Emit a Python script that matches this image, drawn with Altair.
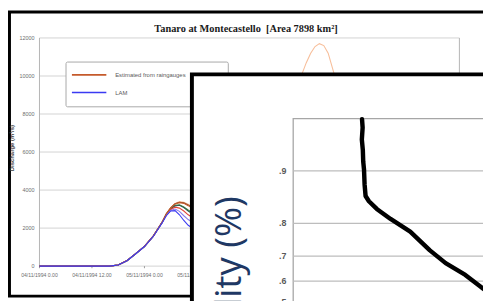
import altair as alt
import pandas as pd

# ---------------- hydrograph data (Tanaro at Montecastello) ----------------
hours = [0, 8, 16, 18, 20, 22, 24, 26, 28, 29, 30, 31, 32, 33, 34, 36, 40, 44, 48, 52, 56, 58,
         60, 61, 62, 63, 64, 65, 66, 67, 68, 70, 72, 76, 80, 84, 88, 92, 96]

q_raingauges = [0, 0, 0, 60, 290, 660, 1040, 1580, 2290, 2740, 3060, 3270, 3340, 3300, 3180,
                2900, 2400, 2200, 2600, 3600, 4800, 5300, 5600, 5700, 5800, 5850, 5850, 5800,
                5700, 5600, 5450, 5100, 4700, 3900, 3200, 2700, 2300, 2000, 1800]
q_peach = [0, 0, 0, 55, 280, 650, 1030, 1570, 2300, 2760, 3080, 3290, 3390, 3360, 3250,
           3000, 2700, 3100, 4100, 5900, 8100, 9200, 10100, 10700, 11200, 11550, 11700, 11600,
           11200, 10400, 9600, 8200, 7000, 5200, 4000, 3200, 2700, 2300, 2000]
q_brown = [0, 0, 0, 60, 285, 655, 1040, 1575, 2300, 2750, 3070, 3280, 3360, 3330, 3220,
           2950, 2500, 2300, 2700, 3800, 5200, 5900, 6300, 6450, 6550, 6600, 6600, 6550,
           6450, 6300, 6150, 5700, 5200, 4300, 3500, 2900, 2500, 2200, 1950]
q_green = [0, 0, 0, 60, 285, 650, 1035, 1570, 2280, 2720, 3020, 3200, 3230, 3110, 2950,
           2650, 2250, 2050, 2300, 3100, 4200, 4700, 5000, 5100, 5150, 5200, 5200, 5150,
           5100, 5000, 4900, 4600, 4200, 3500, 2900, 2450, 2100, 1850, 1650]
q_teal = [0, 0, 0, 58, 280, 645, 1030, 1565, 2280, 2700, 3000, 3170, 3200, 3080, 2900,
          2600, 2200, 2000, 2200, 2900, 3900, 4400, 4700, 4800, 4850, 4900, 4900, 4850,
          4800, 4700, 4600, 4300, 3950, 3300, 2750, 2350, 2000, 1750, 1550]
q_red = [0, 0, 0, 62, 290, 660, 1040, 1580, 2280, 2700, 2980, 3100, 3050, 2900, 2700,
         2400, 2000, 1850, 2100, 2800, 3700, 4200, 4500, 4600, 4650, 4700, 4700, 4650,
         4600, 4500, 4400, 4100, 3750, 3150, 2600, 2200, 1900, 1650, 1500]
q_violet = [0, 0, 0, 60, 285, 650, 1030, 1560, 2270, 2680, 2930, 3000, 2880, 2650, 2450,
            2150, 1800, 1650, 1850, 2500, 3300, 3700, 3950, 4050, 4100, 4150, 4150, 4100,
            4050, 3950, 3850, 3600, 3300, 2800, 2350, 2000, 1750, 1550, 1400]
q_lam = [0, 0, 0, 60, 285, 650, 1030, 1560, 2260, 2650, 2900, 2920, 2700, 2400, 2150,
         1850, 1500, 1400, 1600, 2200, 3000, 3400, 3650, 3750, 3800, 3850, 3850, 3800,
         3750, 3650, 3550, 3300, 3000, 2550, 2150, 1850, 1600, 1400, 1250]

series_names = ["Member 1", "Member 2", "Member 3", "Member 4", "Member 5", "Member 6",
                "Estimated from raingauges", "LAM"]
series_colors = ["#F7BE9A", "#8B4A2B", "#4F8A3A", "#2E5D50", "#E2473B", "#8D7BEA",
                 "#C55A2B", "#3A3AF2"]
series_values = [q_peach, q_brown, q_green, q_teal, q_red, q_violet, q_raingauges, q_lam]

legend_names = ["Estimated from raingauges", "LAM"]

y_ticks = [0, 2000, 4000, 6000, 8000, 10000, 12000]
x_ticks = [0, 12, 24, 36, 48, 60, 72, 84]
x_tick_labels = ["04/11/1994 0.00", "04/11/1994 12.00", "05/11/1994 0.00", "05/11/1994 12.00",
                 "06/11/1994 0.00", "06/11/1994 12.00", "07/11/1994 0.00", "07/11/1994 12.00"]

# ---------------- probability plot data ----------------
prob_x = [35.0, 35.3, 34.9, 35.4, 35.6, 36.0, 36.3, 36.8, 38.5, 42.5, 49.5, 59.5, 69.5,
          77.5, 87.5, 96.0, 101.0]
prob_p = [0.951, 0.945, 0.935, 0.925, 0.912, 0.902, 0.88, 0.86, 0.85, 0.834, 0.811, 0.778,
          0.72, 0.674, 0.627, 0.57, 0.54]
p_ticks = [0.5, 0.6, 0.7, 0.8, 0.9]
p_tick_labels = [".5", ".6", ".7", ".8", ".9"]

# ---------------- tables ----------------
rows = []
for name, vals in zip(series_names, series_values):
    for h, q in zip(hours, vals):
        rows.append({"series": name, "hour": h, "Q": q})
hydro = pd.DataFrame(rows)
ygrid = pd.DataFrame({"v": y_ticks, "t0": 0, "t1": 96, "lab": [str(v) for v in y_ticks]})
xt = pd.DataFrame({"hour": x_ticks, "lab": x_tick_labels, "q0": 0, "q1": -110})
prob = pd.DataFrame({"x": prob_x, "p": prob_p})
pt = pd.DataFrame({"p": p_ticks, "lab": p_tick_labels})
one = pd.DataFrame({"a": [0]})
axisline = pd.DataFrame({"t": [0, 96], "q0": [0, 0], "q1": [12000, 12000]})

x1 = alt.Scale(domain=[0, 96], range=[32, 459], nice=False, zero=False)
y1 = alt.Scale(domain=[0, 12000], range=[260, 28], nice=False, zero=False)
cscale = alt.Scale(domain=series_names, range=series_colors)
cmap = dict(zip(series_names, series_colors))

x2s = alt.Scale(domain=[0, 100], range=[290, 490], nice=False, zero=False)
y2s = alt.Scale(domain=[0, 3], range=[323, 110], nice=False, zero=False)

# ---------------- panel 1 ----------------
frame1 = alt.Chart(one).mark_rect(fill="white", stroke="black", strokeWidth=3).encode(
    x=alt.value(1.5), x2=alt.value(700), y=alt.value(1.5), y2=alt.value(290.5))

grid1 = alt.Chart(ygrid).mark_rule(color="#D2D2D2", strokeWidth=1).encode(
    y=alt.Y("v:Q", scale=y1, axis=None),
    x=alt.X("t0:Q", scale=x1, axis=None), x2="t1:Q")

axl = alt.Chart(axisline).mark_rule(color="#B4B4B4", strokeWidth=1).encode(
    x=alt.X("t:Q", scale=x1, axis=None),
    y=alt.Y("q0:Q", scale=y1, axis=None), y2="q1:Q")

ylab1 = alt.Chart(ygrid).mark_text(align="right", baseline="middle", fontSize=5.5,
                                   color="#6E6E6E", font="Liberation Sans").encode(
    y=alt.Y("v:Q", scale=y1, axis=None), x=alt.value(27), text="lab:N")

xtk = alt.Chart(xt).mark_rule(color="#9A9A9A").encode(
    x=alt.X("hour:Q", scale=x1, axis=None),
    y=alt.Y("q0:Q", scale=y1, axis=None), y2="q1:Q")

xlab1 = alt.Chart(xt).mark_text(align="center", baseline="middle", fontSize=5.2,
                                color="#6E6E6E", font="Liberation Sans").encode(
    x=alt.X("hour:Q", scale=x1, axis=None), y=alt.value(269), text="lab:N")

title1 = alt.Chart(one).mark_text(text="Tanaro at Montecastello\u00a0 [Area 7898 km\u00b2]",
                                  font="Liberation Serif", fontWeight="bold", fontSize=10.5,
                                  color="#1A1A1A", align="center", baseline="middle").encode(
    x=alt.value(242), y=alt.value(19))

ytitle1 = alt.Chart(one).mark_text(text="Discharge (m\u00b3/s)", font="Liberation Sans",
                                   fontWeight="bold", fontSize=6, color="#404040",
                                   angle=270, align="center", baseline="middle").encode(
    x=alt.value(4), y=alt.value(140))

curves = alt.Chart(hydro).mark_line(strokeWidth=1.1).encode(
    x=alt.X("hour:Q", scale=x1, axis=None),
    y=alt.Y("Q:Q", scale=y1, axis=None),
    color=alt.Color("series:N", scale=cscale, legend=None))

legbox = alt.Chart(one).mark_rect(fill="white", stroke="#A8A8A8", strokeWidth=1,
                                  cornerRadius=1.5).encode(
    x=alt.value(59), x2=alt.value(224), y=alt.value(52.5), y2=alt.value(98))

leg_layers = []
for i, name in enumerate(legend_names):
    yy = 65.5 + 18 * i
    leg_layers.append(alt.Chart(one).mark_rule(strokeWidth=1.6, color=cmap[name]).encode(
        x=alt.value(65), x2=alt.value(100), y=alt.value(yy)))
    leg_layers.append(alt.Chart(one).mark_text(text=name, align="left", baseline="middle",
                                               fontSize=6, color="#5A5A5A",
                                               font="Liberation Sans").encode(
        x=alt.value(109), y=alt.value(yy)))

g1 = alt.layer(frame1, grid1, axl, xtk, ylab1, xlab1, title1, ytitle1, curves, legbox,
               *leg_layers)

# ---------------- panel 2 ----------------
frame2 = alt.Chart(one).mark_rect(fill="white", stroke="black", strokeWidth=4).encode(
    x=alt.value(187), x2=alt.value(800), y=alt.value(65), y2=alt.value(600))

border2 = alt.Chart(one).mark_rect(fill="transparent", stroke="#A6A6A6",
                                   strokeWidth=1.3).encode(
    x=alt.value(290), x2=alt.value(800), y=alt.value(110), y2=alt.value(600))

grid2 = alt.Chart(pt).transform_calculate(G="-log(-log(datum.p))").mark_rule(
    color="#BDBDBD", strokeWidth=1.2).encode(
    y=alt.Y("G:Q", scale=y2s, axis=None), x=alt.value(290), x2=alt.value(483))

lab2 = alt.Chart(pt).transform_calculate(G="-log(-log(datum.p))").mark_text(
    align="right", baseline="middle", fontSize=9, fontWeight="bold", color="#5A5A5A",
    font="Liberation Sans").encode(
    y=alt.Y("G:Q", scale=y2s, axis=None), x=alt.value(283), text="lab:N")

curve2 = alt.Chart(prob).transform_calculate(G="-log(-log(datum.p))").mark_line(
    color="black", strokeWidth=4.5, strokeCap="round", strokeJoin="round").encode(
    x=alt.X("x:Q", scale=x2s, axis=None),
    y=alt.Y("G:Q", scale=y2s, axis=None), order="G:Q")

ytitle2 = alt.Chart(one).mark_text(text="Probability (%)", font="Open Sans", fontSize=37,
                                   color="#1F3864", angle=270, align="right",
                                   baseline="alphabetic").encode(
    x=alt.value(237), y=alt.value(189))

g2 = alt.layer(frame2, border2, grid2, lab2, curve2, ytitle2)

chart = alt.layer(g1, g2).resolve_scale(
    x="independent", y="independent"
).properties(width=483, height=293, padding=0, autosize="none").configure_view(
    stroke="transparent")

chart.save("out.html", embed_options={"renderer": "svg", "actions": False})
